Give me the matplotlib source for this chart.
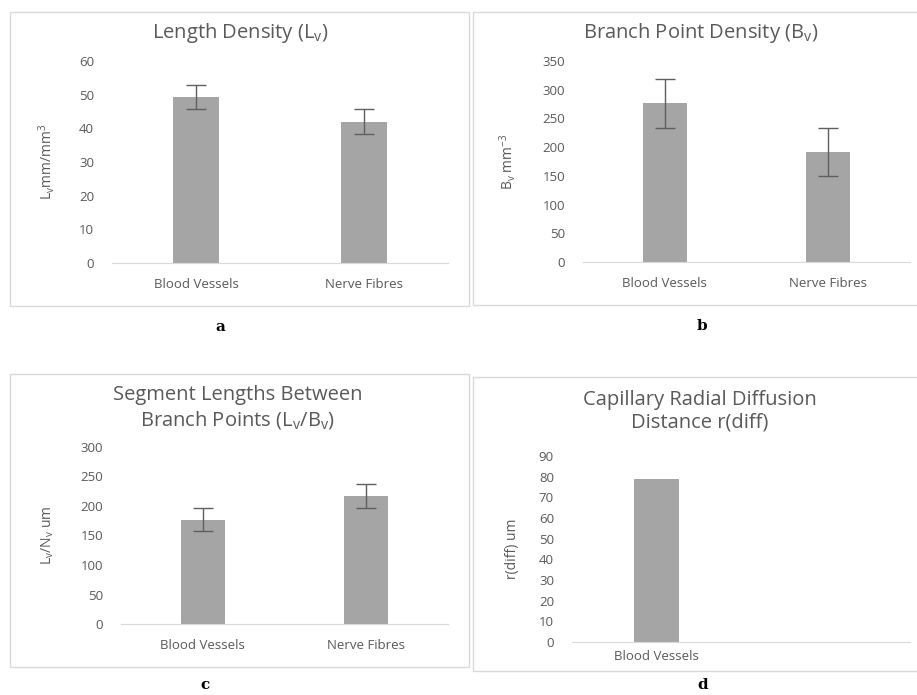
import numpy as np
import matplotlib.pyplot as plt
from matplotlib.patches import Rectangle

plt.rcParams['font.family'] = ['Open Sans', 'DejaVu Sans']
plt.rcParams['mathtext.fontset'] = 'custom'
plt.rcParams['mathtext.rm'] = 'Open Sans'

# data
cats = ["Blood Vessels", "Nerve Fibres"]
length_density = [49.3, 42.0]
length_density_err = [3.6, 3.7]
branch_density = [276, 192]
branch_density_err = [42, 42]
segment_length = [177, 217]
segment_length_err = [20, 20]
diffusion_cats = ["Blood Vessels", ""]
diffusion_dist = [78.7, np.nan]

W, H = 917, 695
fig = plt.figure(figsize=(W / 100, H / 100), dpi=100)

txt = "#595959"
bar_col = "#a5a5a5"
line_col = "#d9d9d9"


def fx(px):
    return px / W


def fy(py):
    return 1 - py / H


def panel_box(x0, y0, x1, y1):
    fig.patches.append(Rectangle((fx(x0), fy(y1)), fx(x1 - x0), (y1 - y0) / H,
                                 transform=fig.transFigure, fill=False,
                                 edgecolor=line_col, lw=1.0))


def make_axes(x0, y0, x1, y1):
    return fig.add_axes([fx(x0), fy(y1), fx(x1 - x0), (y1 - y0) / H])


def style(ax, ymax, step, ylabel, label_x):
    ax.set_ylim(0, ymax)
    ax.set_yticks(np.arange(0, ymax + 1, step))
    ax.set_xlim(-0.5, 1.5)
    for s in ["top", "right", "left"]:
        ax.spines[s].set_visible(False)
    ax.spines["bottom"].set_color(line_col)
    ax.tick_params(axis="both", length=0, colors=txt, labelsize=9.5)
    ax.tick_params(axis="y", pad=13)
    ax.tick_params(axis="x", pad=11)
    ax.set_ylabel(ylabel, color=txt, fontsize=10)
    ax.yaxis.set_label_coords(label_x, 0.5)


def title(xc, yc, s):
    fig.text(fx(xc), fy(yc), s, ha="center", va="center", fontsize=14.5,
             color=txt, linespacing=1.2)


def letter(xc, yc, s):
    fig.text(fx(xc), fy(yc), s, ha="center", va="center", fontsize=11,
             fontweight="bold", family="DejaVu Serif")


err_kw = dict(ecolor="#5f5f5f", capsize=7, elinewidth=1.0, capthick=1.0)
x = np.arange(2)

# ---- a ----
panel_box(10, 12, 469, 306)
ax = make_axes(112, 61, 448, 263)
ax.bar(x, length_density, 0.27, yerr=length_density_err, color=bar_col, error_kw=err_kw)
ax.set_xticks(x, cats)
style(ax, 60, 10, r"L$_\mathrm{v}$mm/mm$^\mathrm{3}$", -0.165)
title(240, 33, r"Length Density (L$_\mathrm{v}$)")
letter(220, 327, "a")

# ---- b ----
panel_box(473, 12, 940, 305)
ax = make_axes(583, 61, 910, 262)
ax.bar(x, branch_density, 0.27, yerr=branch_density_err, color=bar_col, error_kw=err_kw)
ax.set_xticks(x, cats)
style(ax, 350, 50, r"B$_\mathrm{v}$ mm$^\mathrm{-3}$", -0.2)
title(701, 33, r"Branch Point Density (B$_\mathrm{v}$)")
letter(702, 326, "b")

# ---- c ----
panel_box(10, 374, 469, 667)
ax = make_axes(121, 447, 448, 624)
ax.bar(x, segment_length, 0.27, yerr=segment_length_err, color=bar_col, error_kw=err_kw)
ax.set_xticks(x, cats)
style(ax, 300, 50, r"L$_\mathrm{v}$/N$_\mathrm{v}$ um", -0.2)
title(238, 408, "Segment Lengths Between\n" + r"Branch Points (L$_\mathrm{v}$/B$_\mathrm{v}$)")
letter(205, 685, "c")

# ---- d ----
panel_box(473, 377, 940, 671)
ax = make_axes(572, 456, 910, 642)
ax.bar(x, diffusion_dist, 0.27, color=bar_col)
ax.set_xticks(x, diffusion_cats)
style(ax, 90, 10, "r(diff) um", -0.155)
ax.tick_params(axis="x", pad=6)
title(700, 411, "Capillary Radial Diffusion\nDistance r(diff)")
letter(703, 685, "d")

fig.savefig("out.png", dpi=100)
